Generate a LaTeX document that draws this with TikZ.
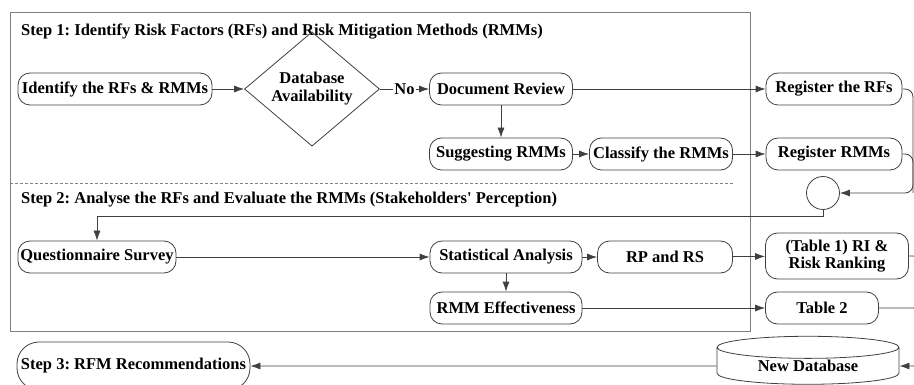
\documentclass[tikz,border=0pt]{standalone}
\usepackage{fontspec}
\setmainfont{Liberation Serif}
\usetikzlibrary{arrows.meta,calc,positioning,shapes.geometric}
\definecolor{edge}{HTML}{404040}
\definecolor{frame}{HTML}{808080}
\frenchspacing

\begin{document}
\begin{tikzpicture}[
    x=1pt, y=-1pt,
    font=\fontsize{16.5}{18}\selectfont\bfseries,
    stepbox/.style={draw=edge, line width=0.8pt, rounded corners=12pt, minimum height=32pt, inner sep=2pt, align=center},
    decision/.style={diamond, draw=edge, line width=0.8pt, minimum width=135pt, minimum height=98pt, inner sep=0pt, align=center},
    title/.style={anchor=west, inner sep=0pt},
    link/.style={draw=edge, line width=0.8pt},
    flow/.style={link, -{Latex[length=10pt,width=7pt]}}
  ]
  \useasboundingbox (0,0) rectangle (914,385);
  \clip (0,0) rectangle (914,385);

  % frame of step 1 and step 2
  \draw[frame, line width=0.8pt] (10,12) rectangle (750,331);
  \draw[frame, line width=0.8pt, dash pattern=on 3pt off 2pt] (10,183) -- (733,183);
  \node[title] (step1) at (21,32) {Step 1: Identify Risk Factors (RFs) and Risk Mitigation Methods (RMMs)};
  \node[title] (step2) at (21,200) {Step 2: Analyse the RFs and Evaluate the RMMs (Stakeholders\textquotesingle{} Perception)};

  % step 1
  \node[stepbox, minimum width=194pt] (ident) at (115,89) {Identify the RFs \& RMMs};
  \node[decision] (avail) at (312,89) {Database\\Availability};
  \node[stepbox, minimum width=143pt] (docrev) at (501,89) {Document Review};
  \node[stepbox, minimum width=143pt] (suggest) at (501,154) {Suggesting RMMs};
  \node[stepbox, minimum width=143pt] (classify) at (661,154) {Classify the RMMs};
  \node[stepbox, minimum width=136pt] (regrf) at (834,89) {Register the RFs};
  \node[stepbox, minimum width=136pt] (regrmm) at (834,154) {Register RMMs};
  \node[circle, draw=edge, line width=0.8pt, minimum size=33pt, inner sep=0pt] (conn) at (823,193) {};

  % step 2
  \node[stepbox, minimum width=158pt] (quest) at (97,257) {Questionnaire Survey};
  \node[stepbox, minimum width=152pt] (stat) at (506,257) {Statistical Analysis};
  \node[stepbox, minimum width=135pt] (rprs) at (665,257) {RP and RS};
  \node[stepbox, minimum width=143pt, minimum height=46pt, inner sep=1pt, font=\fontsize{16.5}{17.5}\selectfont\bfseries] (tab1) at (837,256) {(Table 1) RI \&\\Risk Ranking};
  \node[stepbox, minimum width=152pt] (rmmeff) at (506,308) {RMM Effectiveness};
  \node[stepbox, minimum width=113pt] (tab2) at (822,308) {Table 2};

  % step 3
  \node[stepbox, minimum width=233pt, minimum height=48pt, rounded corners=22pt] (rec) at (133.5,366) {Step 3: RFM Recommendations};
  \node[cylinder, shape border rotate=90, draw=edge, line width=0.8pt, minimum width=182pt, minimum height=48pt, aspect=0.22, inner sep=0pt] (db) at (808,366) {New Database};

  \draw[flow] (ident) -- (avail);
  \draw[flow] (avail) -- node[fill=white, inner sep=1pt] {No} (docrev);
  \draw[flow] (docrev) -- (suggest);
  \draw[flow] (suggest) -- (classify);
  \draw[flow] (docrev) -- (regrf);
  \draw[flow] (classify) -- (regrmm);
  \coordinate (loop) at (913,193);
  \draw[flow, rounded corners=8pt] (regrf.east) -| (loop) -- (conn);
  \draw[link, rounded corners=8pt] (regrmm.east) -| (loop);
  \coordinate (ret) at (0,216);
  \draw[flow] (conn.south) |- (quest.north |- ret) -- (quest.north);
  \draw[flow] (quest) -- (stat);
  \draw[flow] (stat) -- (rprs);
  \draw[flow] (rprs) -- (tab1);
  \draw[flow] (stat) -- (rmmeff);
  \draw[flow] (rmmeff) -- (tab2);
  \coordinate (rside) at (919,0);
  \draw[flow, rounded corners=6pt] (tab1.east) -| (rside |- db.east) -- (db.east);
  \draw[link, rounded corners=6pt] (tab2.east) -| (rside |- db.east);
  \draw[flow] (db.west) -- (rec.east);
\end{tikzpicture}
\end{document}
